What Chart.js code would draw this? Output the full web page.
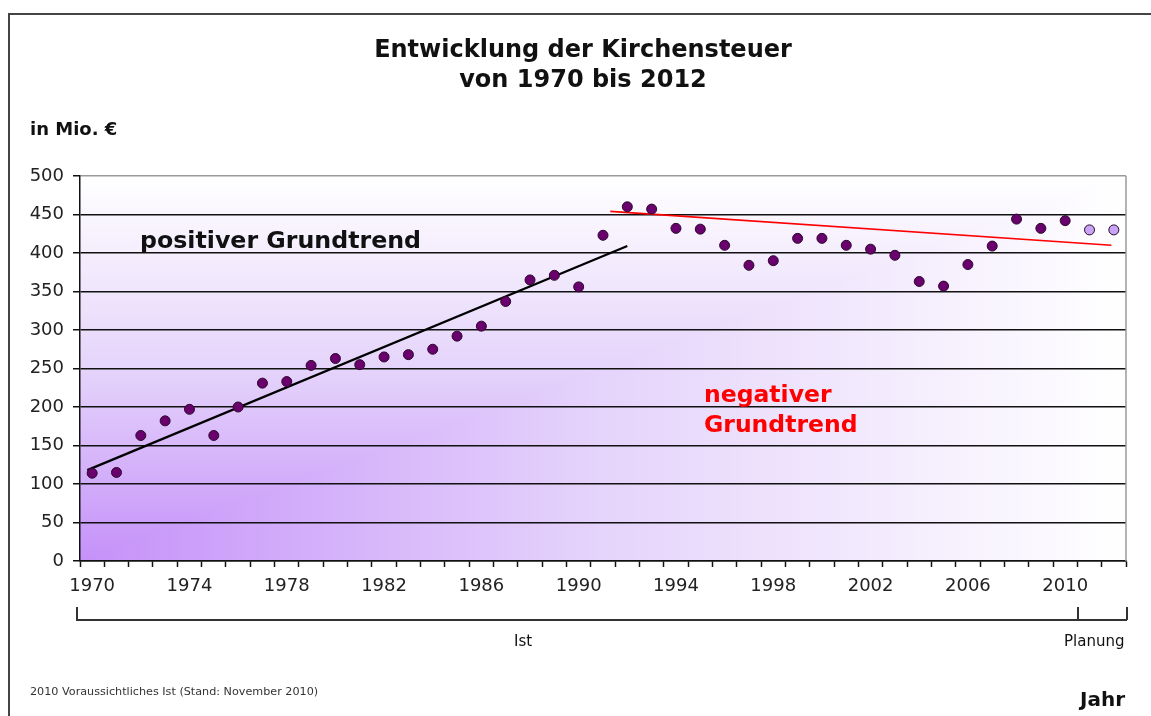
<!DOCTYPE html>
<html lang="de">
<head>
<meta charset="utf-8">
<title>Entwicklung der Kirchensteuer</title>
<script src="https://cdn.jsdelivr.net/npm/chart.js@4/dist/chart.umd.min.js"></script>
<style>
  html, body { margin: 0; padding: 0; background: #fff; }
  body { width: 1151px; height: 716px; position: relative; overflow: hidden; font-family: 'DejaVu Sans', Verdana, sans-serif; }
  #frame { position: absolute; left: 8px; top: 13px; width: 1200px; height: 800px; border-top: 2px solid #444; border-left: 2px solid #444; }
  #wrap { position: absolute; left: 0; top: 0; width: 1151px; height: 716px; }
  .txt { position: absolute; white-space: nowrap; color: #111; }
  .title { left: 0; width: 1166px; text-align: center; font-weight: bold; font-size: 24px; }
  .bracket { position: absolute; background: #333; }
</style>
</head>
<body>
<div id="frame"></div>
<div id="wrap"><canvas id="chart" width="1151" height="716"></canvas></div>

<div class="txt title" style="top:35px">Entwicklung der Kirchensteuer</div>
<div class="txt title" style="top:65px">von 1970 bis 2012</div>
<div class="txt" style="left:30px; top:118px; font-size:18px; font-weight:bold;">in Mio. €</div>

<div class="txt" style="left:140px; top:226px; font-size:23.7px; font-weight:bold;">positiver Grundtrend</div>
<div class="txt" style="left:704px; top:379px; font-size:23.5px; font-weight:bold; color:#ff0000; line-height:30px;">negativer<br>Grundtrend</div>

<!-- Klammer unter der x-Achse -->
<div class="bracket" style="left:76px; top:607px; width:1.5px; height:13px;"></div>
<div class="bracket" style="left:76px; top:619px; width:1051px; height:1.5px;"></div>
<div class="bracket" style="left:1077px; top:607px; width:1.5px; height:13px;"></div>
<div class="bracket" style="left:1126px; top:607px; width:1.5px; height:13px;"></div>
<div class="txt" style="left:514px; top:632px; font-size:15px;">Ist</div>
<div class="txt" style="left:1064px; top:632px; font-size:15px;">Planung</div>

<div class="txt" style="left:30px; top:685px; font-size:11.2px; color:#333;">2010 Voraussichtliches Ist (Stand: November 2010)</div>
<div class="txt" style="left:1080px; top:687px; font-size:20px; font-weight:bold;">Jahr</div>

<script>
// ─── DATEN ─────────────────────────────────────────────────────────────────
const years = [];
for (let y = 1970; y <= 2012; y++) years.push(String(y));

// Kirchensteuer in Mio. € (1970–2010 Ist, 2011–2012 Planung)
const steuer = [
  114, 115, 163, 182, 197, 163, 200, 231, 233, 254,   // 1970–1979
  263, 255, 265, 268, 275, 292, 305, 337, 365, 371,   // 1980–1989
  356, 423, 460, 457, 432, 431, 410, 384, 390, 419,   // 1990–1999
  419, 410, 405, 397, 363, 357, 385, 409, 444, 432,   // 2000–2009
  442, 430, 430                                       // 2010–2012
];
const firstPlanYear = '2011';

// Trendlinien (Anfangs- und Endpunkt)
const trendPosYears  = [1969.8, 1992.0];
const trendPosValues = [118, 409];
const trendNegYears  = [1991.3, 2011.9];
const trendNegValues = [454, 410];

const yTicks = [0, 50, 100, 150, 200, 250, 300, 350, 400, 450, 500];

// ─── HINTERGRUND (Verlauf aus der Ecke unten links) ────────────────────────
const cornerGradient = {
  id: 'cornerGradient',
  beforeDraw(chart) {
    const { ctx, chartArea: a } = chart;
    const stops = [[0, '#c591f9'], [0.5, '#e5d4fb'], [1, '#ffffff']];
    ctx.save();
    // ganze Fläche: vertikaler Verlauf
    let g = ctx.createLinearGradient(0, a.bottom, 0, a.top);
    stops.forEach(s => g.addColorStop(s[0], s[1]));
    ctx.fillStyle = g;
    ctx.fillRect(a.left, a.top, a.right - a.left, a.bottom - a.top);
    // unteres rechtes Dreieck: horizontaler Verlauf darüber
    ctx.beginPath();
    ctx.moveTo(a.left, a.bottom);
    ctx.lineTo(a.right, a.bottom);
    ctx.lineTo(a.right, a.top);
    ctx.closePath();
    g = ctx.createLinearGradient(a.left, 0, a.right, 0);
    stops.forEach(s => g.addColorStop(s[0], s[1]));
    ctx.fillStyle = g;
    ctx.fill();
    ctx.restore();
  },
  beforeDatasetsDraw(chart) {
    const { ctx, chartArea: a } = chart;
    ctx.save();
    ctx.strokeStyle = '#9a9a9a';
    ctx.lineWidth = 1.5;
    ctx.beginPath();
    ctx.moveTo(a.right, a.top);
    ctx.lineTo(a.right, a.bottom);
    ctx.stroke();
    ctx.restore();
  }
};

// ─── DIAGRAMM ──────────────────────────────────────────────────────────────
const planIndex = years.indexOf(firstPlanYear);

new Chart(document.getElementById('chart'), {
  type: 'line',
  data: {
    labels: years,
    datasets: [
      {
        label: 'Kirchensteuer',
        data: steuer,
        xAxisID: 'x',
        showLine: false,
        pointRadius: 5,
        pointHoverRadius: 5,
        pointBorderWidth: 1,
        pointBorderColor: '#2a0a2a',
        pointBackgroundColor: steuer.map((_, i) => i >= planIndex ? '#c9a3f5' : '#6a006e'),
        order: 0
      },
      {
        label: 'positiver Grundtrend',
        data: trendPosYears.map((x, i) => ({ x, y: trendPosValues[i] })),
        xAxisID: 'xt',
        borderColor: '#000000',
        borderWidth: 2.2,
        pointRadius: 0,
        order: 1
      },
      {
        label: 'negativer Grundtrend',
        data: trendNegYears.map((x, i) => ({ x, y: trendNegValues[i] })),
        xAxisID: 'xt',
        borderColor: '#ff0000',
        borderWidth: 1.6,
        pointRadius: 0,
        order: 1
      }
    ]
  },
  options: {
    responsive: false,
    animation: false,
    events: [],
    layout: { padding: { left: 0, top: 176, right: 25, bottom: 115 } },
    plugins: {
      legend: { display: false },
      title: { display: false },
      tooltip: { enabled: false }
    },
    scales: {
      x: {
        type: 'category',
        offset: true,
        grid: {
          offset: true,
          drawOnChartArea: false,
          drawTicks: true,
          tickLength: 6,
          tickWidth: 1.5,
          tickColor: '#111'
        },
        border: { color: '#111', width: 1.5 },
        ticks: {
          autoSkip: false,
          maxRotation: 0,
          padding: 9,
          color: '#222',
          font: { family: 'DejaVu Sans', size: 18 },
          callback: (v, i) => i % 4 === 0 ? years[i] : ''
        },
        afterFit: s => { s.height = 40; }
      },
      xt: {
        type: 'linear',
        display: false,
        min: 1969.5,
        max: 2012.5
      },
      y: {
        min: 0,
        max: 500,
        afterBuildTicks: s => { s.ticks = yTicks.map(v => ({ value: v })); },
        grid: {
          color: ctx => ctx.tick && ctx.tick.value === 500 ? '#9a9a9a' : '#111',
          lineWidth: 1.5,
          tickLength: 7,
          tickColor: '#111'
        },
        border: { color: '#111', width: 1.5 },
        ticks: {
          padding: 9,
          color: '#222',
          font: { family: 'DejaVu Sans', size: 18 }
        },
        afterFit: s => { s.width = 80; }
      }
    }
  },
  plugins: [cornerGradient]
});
</script>
</body>
</html>
